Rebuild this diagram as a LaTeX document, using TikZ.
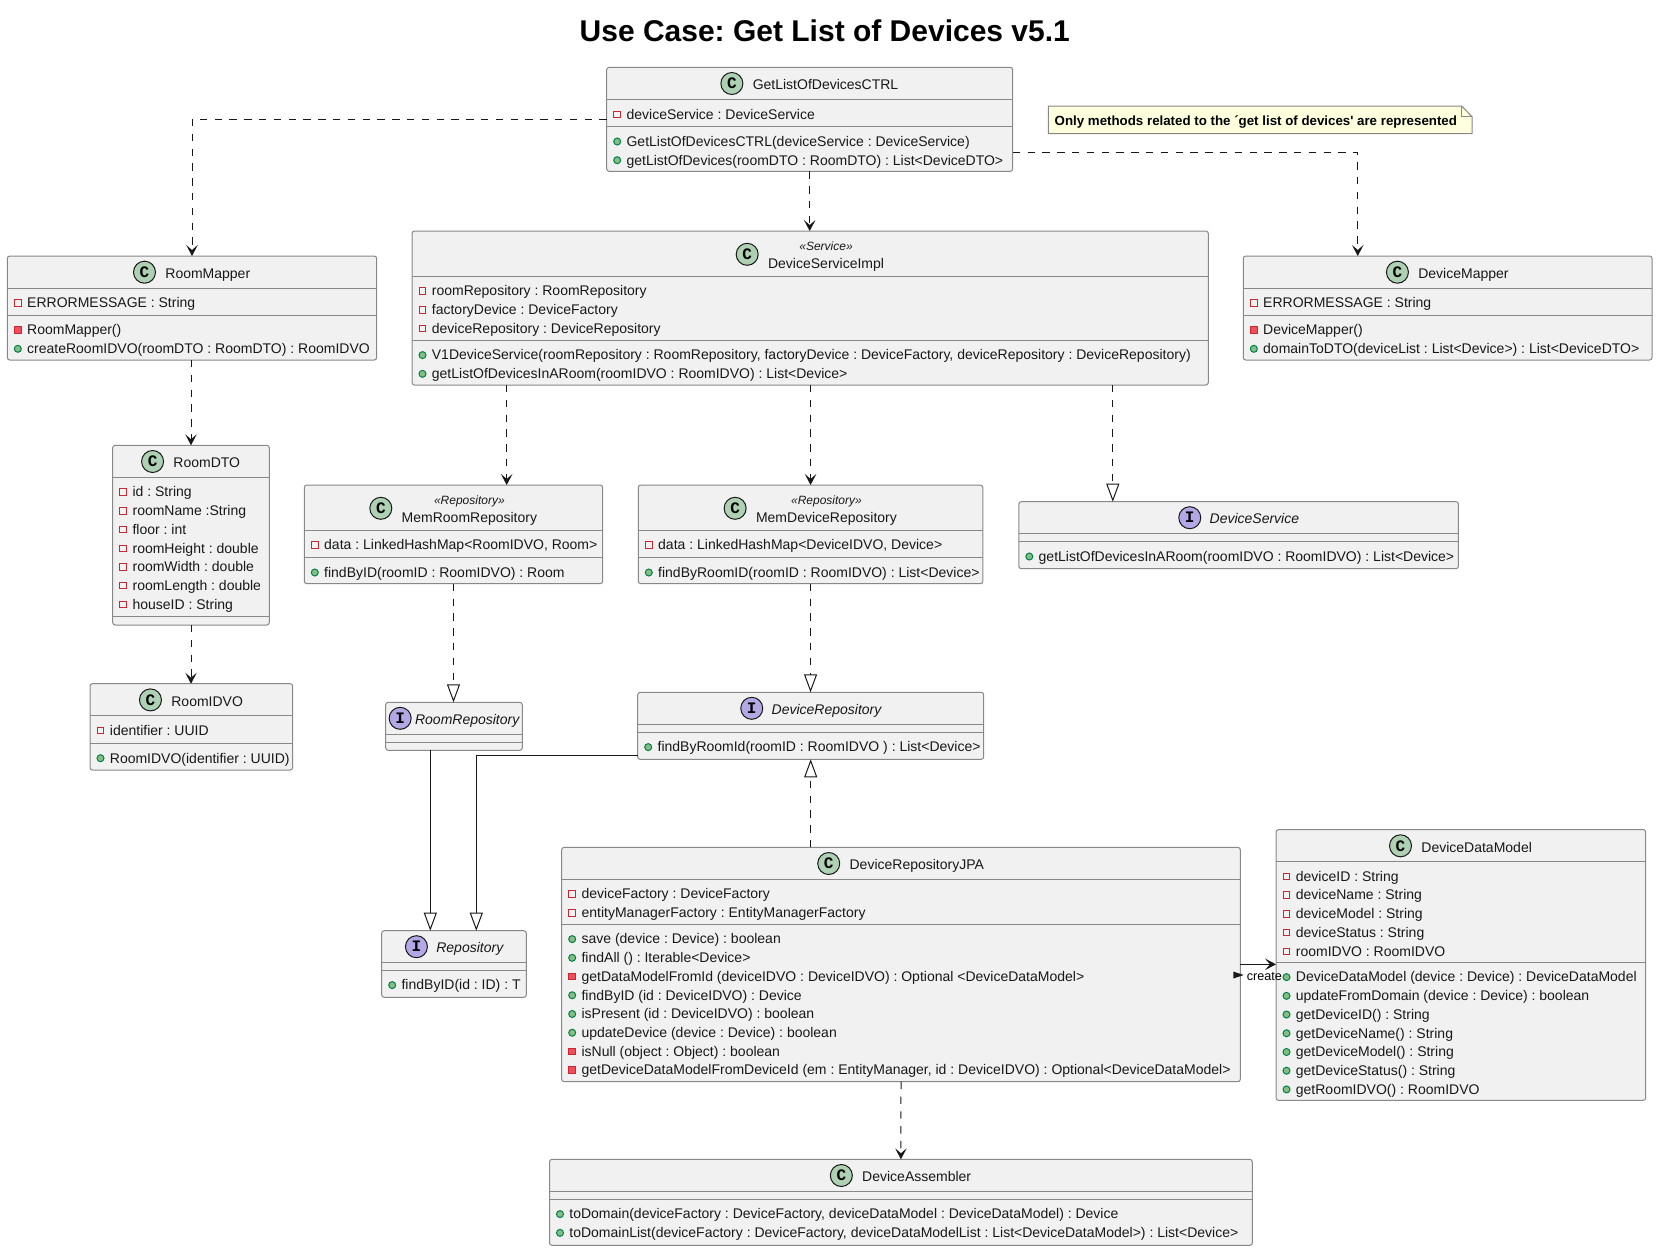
\documentclass[tikz,border=0pt]{standalone}
\usepackage{fontspec}
\usetikzlibrary{calc,arrows.meta}
\frenchspacing
\newfontfamily\umlfont{Liberation Sans}
\newfontfamily\iconfont{Liberation Mono}
\definecolor{boxgray}{HTML}{F1F1F1}
\definecolor{boxline}{HTML}{888888}
\definecolor{wireblack}{HTML}{181818}
\definecolor{classgreen}{HTML}{ADD1B2}
\definecolor{ifacepurple}{HTML}{B4A7E5}
\definecolor{privred}{HTML}{C82930}
\definecolor{methred}{HTML}{F24D5C}
\definecolor{pubgreen}{HTML}{038048}
\definecolor{pubfill}{HTML}{84BE84}
\definecolor{notefill}{HTML}{FEFFDD}
\tikzset{
    classnode/.style={draw=boxline,fill=boxgray,line width=1pt,rounded corners=2.5pt,inner sep=0pt,outer sep=0pt},
    classrule/.style={draw=boxline,line width=1pt},
    titletext/.style={anchor=base,inner sep=0pt,text=wireblack,font=\umlfont\fontsize{14}{16}\selectfont},
    ifacetext/.style={anchor=base,inner sep=0pt,text=wireblack,font=\umlfont\itshape\fontsize{14}{16}\selectfont},
    stereotext/.style={anchor=base,inner sep=0pt,text=wireblack,font=\umlfont\itshape\fontsize{12}{14}\selectfont},
    membertext/.style={anchor=base west,inner sep=0pt,text=wireblack,font=\umlfont\fontsize{14}{16}\selectfont},
    classicon/.style={circle,draw=wireblack,line width=1pt,fill=classgreen,minimum size=22pt,inner sep=0pt,font=\iconfont\bfseries\fontsize{16}{16}\selectfont},
    ifaceicon/.style={classicon,fill=ifacepurple},
    memberpriv/.style={rectangle,draw=privred,line width=1pt,minimum size=6.5pt,inner sep=0pt},
    membermeth/.style={rectangle,draw=privred,fill=methred,line width=1pt,minimum size=6.5pt,inner sep=0pt},
    memberpub/.style={circle,draw=pubgreen,fill=pubfill,line width=1pt,minimum size=7pt,inner sep=0pt},
    depends/.style={draw=wireblack,line width=1pt,dash pattern=on 7.4pt off 7.4pt,->},
    realizes/.style={draw=wireblack,line width=1pt,dash pattern=on 7.4pt off 7.4pt,-{Triangle[open,length=18pt,width=13pt,fill=white]}},
    extends/.style={draw=wireblack,line width=1pt,-{Triangle[open,length=18pt,width=13pt,fill=white]}},
    associates/.style={draw=wireblack,line width=1pt,->},
}
% name, left, top, right, bottom, first rule, second rule
\newcommand{\classbox}[7]{
    \pgfmathsetmacro{\boxw}{#4-#2}
    \pgfmathsetmacro{\boxh}{#5-#3}
    \node[classnode,minimum width=\boxw pt,minimum height=\boxh pt] (#1) at ({(#2+#4)/2},{(#3+#5)/2}) {};
    \coordinate (#1-a) at (#2,#6);
    \coordinate (#1-b) at (#2,#7);
    \draw[classrule] (#1-a) -- (#1-a -| #1.east);
    \draw[classrule] (#1-b) -- (#1-b -| #1.east);
}
\newcommand{\classhead}[2]{
    \node[titletext] (#1-title) at ($(#1.north)+(15.8,22.4)$) {#2};
    \node[classicon] (#1-icon) at ($(#1-title.base west)+(-20.7,-6.2)$) {C};
}
\newcommand{\ifacehead}[2]{
    \node[ifacetext] (#1-title) at ($(#1.north)+(15.8,22)$) {#2};
    \node[ifaceicon] (#1-icon) at ($(#1-title.base west)+(-19.7,-6)$) {I};
}
\newcommand{\stereohead}[3]{
    \node[titletext] (#1-title) at ($(#1.north)+(15.9,37)$) {#3};
    \node[stereotext] (#1-stereo) at ($(#1.north)+(15.9,19)$) {«#2»};
    \node[classicon] (#1-icon) at ($(#1-title.base west)+(-20.7,-13.7)$) {C};
}
% name, rule (a or b), rows
\newcommand{\members}[3]{
    \foreach \vis/\txt [count=\i] in {#3}{
        \pgfmathsetmacro{\rowy}{19.6+18.72*(\i-1)}
        \pgfmathsetmacro{\marky}{\rowy-4.8}
        \node[\vis] (#1-#2-mark\i) at ($(#1-#2)+(10.5,\marky)$) {};
        \node[membertext] (#1-#2-row\i) at ($(#1-#2)+(19.7,\rowy)$) {\txt};
    }
}
\begin{document}
\begin{tikzpicture}[x=1pt,y=-1pt,>={Stealth[length=11pt,width=11.5pt,inset=5pt]}]
    \useasboundingbox (0,0) rectangle (1657,1251);
    \node[anchor=base,inner sep=0pt,text=black,font=\umlfont\bfseries\fontsize{30}{36}\selectfont] (title) at (824.8,41.7) {Use Case: Get List of Devices v5.1};

    \classbox{ctrl}{606.7}{67.3}{1012.7}{171.3}{99.5}{126.7}
    \classhead{ctrl}{GetListOfDevicesCTRL}
    \members{ctrl}{a}{memberpriv/{deviceService : DeviceService}}
    \members{ctrl}{b}{memberpub/{GetListOfDevicesCTRL(deviceService : DeviceService)},
        memberpub/{getListOfDevices(roomDTO : RoomDTO) : List<DeviceDTO>}}

    % note
    \draw[draw=boxline,fill=notefill,line width=1pt] (1048.3,106) -- (1461.7,106) -- (1472,116.7) -- (1472,133.7) -- (1048.3,133.7) -- cycle;
    \draw[draw=boxline,line width=1pt] (1461.7,106) -- (1461.7,116.7) -- (1472,116.7);
    \node[anchor=base west,inner sep=0pt,font=\umlfont\bfseries\fontsize{13.3}{15}\selectfont] (note) at (1054.5,125) {Only methods related to the ´get list of devices' are represented};

    \classbox{roommapper}{7.3}{256}{376.7}{360}{288.3}{315.3}
    \classhead{roommapper}{RoomMapper}
    \members{roommapper}{a}{memberpriv/{ERRORMESSAGE : String}}
    \members{roommapper}{b}{membermeth/{RoomMapper()},
        memberpub/{createRoomIDVO(roomDTO : RoomDTO) : RoomIDVO}}

    \classbox{devicemapper}{1243.3}{256}{1652}{360}{288.3}{315.3}
    \classhead{devicemapper}{DeviceMapper}
    \members{devicemapper}{a}{memberpriv/{ERRORMESSAGE : String}}
    \members{devicemapper}{b}{membermeth/{DeviceMapper()},
        memberpub/{domainToDTO(deviceList : List<Device>) : List<DeviceDTO>}}

    \classbox{serviceimpl}{412}{231}{1208.3}{385}{276.3}{340.3}
    \stereohead{serviceimpl}{Service}{DeviceServiceImpl}
    \members{serviceimpl}{a}{memberpriv/{roomRepository : RoomRepository},
        memberpriv/{factoryDevice : DeviceFactory},
        memberpriv/{deviceRepository : DeviceRepository}}
    \members{serviceimpl}{b}{memberpub/{V1DeviceService(roomRepository : RoomRepository, factoryDevice : DeviceFactory, deviceRepository : DeviceRepository)},
        memberpub/{getListOfDevicesInARoom(roomIDVO : RoomIDVO) : List<Device>}}

    \classbox{roomdto}{112.7}{445.3}{269.3}{625}{477.3}{616.6}
    \classhead{roomdto}{RoomDTO}
    \members{roomdto}{a}{memberpriv/{id : String},
        memberpriv/{roomName :String},
        memberpriv/{floor : int},
        memberpriv/{roomHeight : double},
        memberpriv/{roomWidth : double},
        memberpriv/{roomLength : double},
        memberpriv/{houseID : String}}

    \classbox{roomidvo}{90}{683.7}{292.7}{770}{715.7}{743.4}
    \classhead{roomidvo}{RoomIDVO}
    \members{roomidvo}{a}{memberpriv/{identifier : UUID}}
    \members{roomidvo}{b}{memberpub/{RoomIDVO(identifier : UUID)}}

    \classbox{memroom}{304.3}{485}{602.7}{583.7}{530.3}{557.7}
    \stereohead{memroom}{Repository}{MemRoomRepository}
    \members{memroom}{a}{memberpriv/{data : LinkedHashMap<RoomIDVO, Room>}}
    \members{memroom}{b}{memberpub/{findByID(roomID : RoomIDVO) : Room}}

    \classbox{memdevice}{638.3}{485}{982.8}{583.7}{530.3}{557.7}
    \stereohead{memdevice}{Repository}{MemDeviceRepository}
    \members{memdevice}{a}{memberpriv/{data : LinkedHashMap<DeviceIDVO, Device>}}
    \members{memdevice}{b}{memberpub/{findByRoomID(roomID : RoomIDVO) : List<Device>}}

    \classbox{deviceservice}{1018.8}{501.7}{1458.4}{568.7}{533.7}{541.7}
    \ifacehead{deviceservice}{DeviceService}
    \members{deviceservice}{b}{memberpub/{getListOfDevicesInARoom(roomIDVO : RoomIDVO) : List<Device>}}

    \classbox{roomrepo}{385.7}{702.3}{522.3}{750.3}{734.3}{742.3}
    \node[ifacetext] (roomrepo-title) at ($(roomrepo.north)+(13.2,21.7)$) {RoomRepository};
    \node[ifaceicon] (roomrepo-icon) at ($(roomrepo-title.base west)+(-14.7,-5.7)$) {I};

    \classbox{devicerepo}{637.7}{692.3}{983.7}{759.3}{724.3}{732.3}
    \ifacehead{devicerepo}{DeviceRepository}
    \members{devicerepo}{b}{memberpub/{findByRoomId(roomID : RoomIDVO ) : List<Device>}}

    \classbox{repository}{381.7}{930.7}{526.3}{997.3}{962.3}{970.3}
    \ifacehead{repository}{Repository}
    \members{repository}{b}{memberpub/{findByID(id : ID) : T}}

    \classbox{jpa}{561.7}{847.3}{1240.3}{1081.7}{879.3}{924.3}
    \classhead{jpa}{DeviceRepositoryJPA}
    \members{jpa}{a}{memberpriv/{deviceFactory : DeviceFactory},
        memberpriv/{entityManagerFactory : EntityManagerFactory}}
    \members{jpa}{b}{memberpub/{save (device : Device) : boolean},
        memberpub/{findAll () : Iterable<Device>},
        membermeth/{getDataModelFromId (deviceIDVO : DeviceIDVO) : Optional <DeviceDataModel>},
        memberpub/{findByID (id : DeviceIDVO) : Device},
        memberpub/{isPresent (id : DeviceIDVO) : boolean},
        memberpub/{updateDevice (device : Device) : boolean},
        membermeth/{isNull (object : Object) : boolean},
        membermeth/{getDeviceDataModelFromDeviceId (em : EntityManager, id : DeviceIDVO) : Optional<DeviceDataModel>}}

    \classbox{datamodel}{1276}{829.6}{1645.7}{1100.3}{861.6}{962.3}
    \classhead{datamodel}{DeviceDataModel}
    \members{datamodel}{a}{memberpriv/{deviceID : String},
        memberpriv/{deviceName : String},
        memberpriv/{deviceModel : String},
        memberpriv/{deviceStatus : String},
        memberpriv/{roomIDVO : RoomIDVO}}
    \members{datamodel}{b}{memberpub/{DeviceDataModel (device : Device) : DeviceDataModel},
        memberpub/{updateFromDomain (device : Device) : boolean},
        memberpub/{getDeviceID() : String},
        memberpub/{getDeviceName() : String},
        memberpub/{getDeviceModel() : String},
        memberpub/{getDeviceStatus() : String},
        memberpub/{getRoomIDVO() : RoomIDVO}}

    \classbox{assembler}{549.5}{1159.3}{1252.3}{1245.3}{1191.3}{1199.3}
    \classhead{assembler}{DeviceAssembler}
    \members{assembler}{b}{memberpub/{toDomain(deviceFactory : DeviceFactory, deviceDataModel : DeviceDataModel) : Device},
        memberpub/{toDomainList(deviceFactory : DeviceFactory, deviceDataModelList : List<DeviceDataModel>) : List<Device>}}

    % connectors
    \draw[depends] (ctrl.west) -| (roommapper.north);
    \coordinate (mapperin) at ($(devicemapper.north)+(-89.9,0)$);
    \draw[depends] ($(ctrl.south east)+(0,-19.3)$) -| (mapperin);
    \draw[depends] (ctrl.south) -- (ctrl.south |- serviceimpl.north);
    \coordinate (memroomin) at ($(memroom.north)+(53.2,0)$);
    \draw[depends] (memroomin |- serviceimpl.south) -- (memroomin);
    \draw[depends] (memdevice.north |- serviceimpl.south) -- (memdevice.north);
    \coordinate (servicein) at ($(deviceservice.north)+(-125.8,0)$);
    \draw[realizes] (servicein |- serviceimpl.south) -- (servicein);
    \draw[depends] (roomdto.north |- roommapper.south) -- (roomdto.north);
    \draw[depends] (roomdto.south) -- (roomdto.south |- roomidvo.north);
    \draw[realizes] (memroom.south) -- (memroom.south |- roomrepo.north);
    \draw[realizes] (memdevice.south) -- (memdevice.south |- devicerepo.north);
    \coordinate (repoleft) at ($(repository.north)+(-23.7,0)$);
    \coordinate (reporight) at ($(repository.north)+(22.3,0)$);
    \draw[extends] (repoleft |- roomrepo.south) -- (repoleft);
    \draw[extends] ($(devicerepo.south west)+(0,-4)$) -| (reporight);
    \draw[realizes] (devicerepo.south |- jpa.north) -- (devicerepo.south);
    \draw[depends] (jpa.south) -- (assembler.north);
    \coordinate (createfrom) at (jpa.east |- 0,964.3);
    \draw[associates] (createfrom) -- (createfrom -| datamodel.west);
    \node[anchor=base west,inner sep=0pt,font=\umlfont\fontsize{12.6}{14}\selectfont] (createlabel) at (1246.7,980.7) {create};
    \fill[wireblack] (1233.3,971.5) -- (1243.7,975) -- (1233.3,978.5) -- cycle;
\end{tikzpicture}
\end{document}
